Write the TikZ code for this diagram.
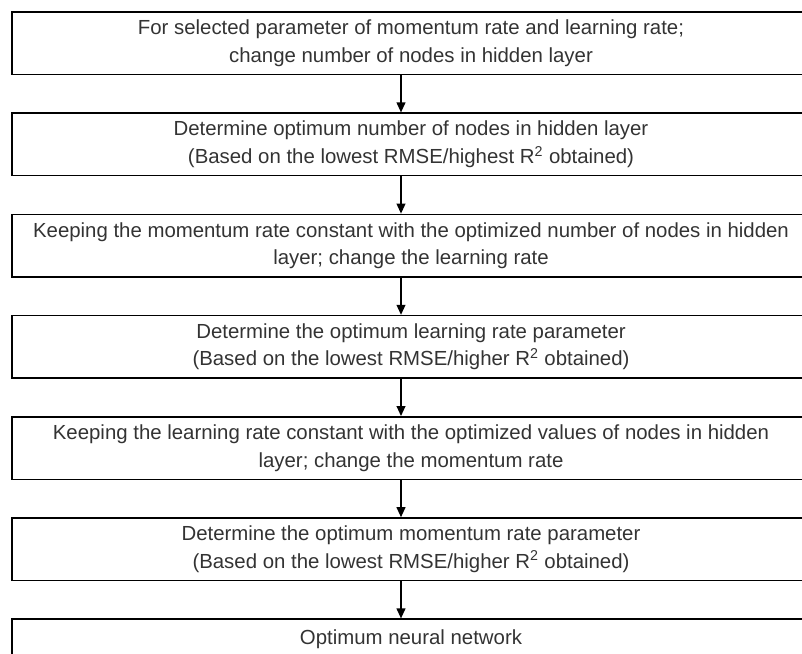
\documentclass[tikz,border=0pt]{standalone}
\usepackage{fontspec}
\setmainfont{Liberation Sans}
\usepackage{tikz}
\usetikzlibrary{arrows.meta,positioning}

\begin{document}
\begin{tikzpicture}[>={Triangle[length=0.25cm,width=0.22cm]},node distance=2.53cm,
  line width=0.0375cm,
  step box/.style={rectangle,draw=black,minimum width=19.95cm,minimum height=1.5625cm,
    align=center,text=black!80,font=\fontsize{14.5pt}{19.5pt}\selectfont}]

  \useasboundingbox (0,0) rectangle (20.05,-16.35);

  \node[step box] (b1) at (10.275,-1.081) {For selected parameter of momentum rate and learning rate;\\ change number of nodes in hidden layer};
  \node[step box] (b2) [below of=b1] {Determine optimum number of nodes in hidden layer\\ (Based on the lowest RMSE/highest R\textsuperscript{2} obtained)};
  \node[step box] (b3) [below of=b2] {Keeping the momentum rate constant with the optimized number of nodes in hidden\\ layer; change the learning rate};
  \node[step box] (b4) [below of=b3] {Determine the optimum learning rate parameter\\ (Based on the lowest RMSE/higher R\textsuperscript{2} obtained)};
  \node[step box] (b5) [below of=b4] {Keeping the learning rate constant with the optimized values of nodes in hidden\\ layer; change the momentum rate};
  \node[step box] (b6) [below of=b5] {Determine the optimum momentum rate parameter\\ (Based on the lowest RMSE/higher R\textsuperscript{2} obtained)};
  \node[step box] (b7) [below of=b6] {Optimum neural network\\ \mbox{}};

  % arrows sit a little left of the box centres
  \coordinate (ax) at (10.025,0);

  \path[->]
    (b1.south -| ax) edge (b2.north -| ax)
    (b2.south -| ax) edge (b3.north -| ax)
    (b3.south -| ax) edge (b4.north -| ax)
    (b4.south -| ax) edge (b5.north -| ax)
    (b5.south -| ax) edge (b6.north -| ax)
    (b6.south -| ax) edge (b7.north -| ax);
\end{tikzpicture}
\end{document}
